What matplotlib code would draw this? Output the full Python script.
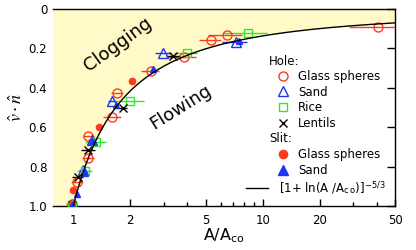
import numpy as np
import matplotlib
matplotlib.use('Agg')
import matplotlib.pyplot as plt
from matplotlib.lines import Line2D
from matplotlib.ticker import FixedLocator, NullFormatter

plt.rcParams['font.family'] = 'DejaVu Sans'
plt.rcParams['mathtext.fontset'] = 'stix'

# hole, glass spheres (open circles)
hole_glass_x = [0.98, 1.05, 1.20, 1.20, 1.61, 1.71, 2.56, 3.82, 5.3, 6.45, 40.6]
hole_glass_v = [0.99, 0.88, 0.757, 0.645, 0.548, 0.427, 0.315, 0.243, 0.157, 0.132, 0.092]
hole_glass_err = [0.07, 0.08, 0.09, 0.08, 0.17, 0.12, 0.28, 0.65, 0.7, 1.3, 12.0]

# hole, sand (open triangles)
hole_sand_x = [0.97, 1.12, 1.25, 1.61, 2.99, 7.2]
hole_sand_v = [0.995, 0.815, 0.665, 0.467, 0.223, 0.168]
hole_sand_err = [0.04, 0.05, 0.06, 0.08, 0.28, 1.1]

# hole, rice (open squares)
hole_rice_x = [0.99, 1.15, 1.32, 2.0, 3.97, 8.36]
hole_rice_v = [0.995, 0.82, 0.675, 0.467, 0.223, 0.122]
hole_rice_err = [0.05, 0.1, 0.17, 0.35, 0.55, 2.2]

# hole, lentils (crosses)
hole_lent_x = [0.99, 1.06, 1.20, 1.82, 3.38]
hole_lent_v = [0.995, 0.853, 0.716, 0.50, 0.24]
hole_lent_err = [0.04, 0.07, 0.1, 0.1, 0.3]

# slit, glass spheres (filled circles)
slit_glass_x = [0.98, 1.0, 1.36, 2.05]
slit_glass_v = [0.99, 0.92, 0.60, 0.365]

# slit, sand (filled triangles)
slit_sand_x = [0.98, 1.04, 1.16, 1.26, 1.69, 2.62, 7.5]
slit_sand_v = [0.995, 0.94, 0.83, 0.67, 0.487, 0.305, 0.16]

red = '#ff3a1e'
blue = '#1f35f5'
green = '#2ee82e'

fig = plt.figure(figsize=(4.16, 2.5), dpi=100)
ax = fig.add_axes([0.127, 0.176, 0.823, 0.788])

xmin, xmax = 0.78, 50
A = np.logspace(np.log10(1.0), np.log10(xmax), 300)
curve = (1 + np.log(A)) ** (-5 / 3)

# clogging region
ax.fill_between(np.r_[xmin, A], 0, np.r_[1.0, curve], color='#fffac8', lw=0, zorder=0)

ax.errorbar(hole_glass_x, hole_glass_v, xerr=hole_glass_err, fmt='o', mfc='none',
            mec=red, ecolor=red, ms=6.5, mew=1.0, elinewidth=1.0, capsize=0, zorder=3)
ax.errorbar(hole_sand_x, hole_sand_v, xerr=hole_sand_err, fmt='^', mfc='none',
            mec=blue, ecolor=blue, ms=6.5, mew=1.0, elinewidth=1.0, capsize=0, zorder=3)
ax.errorbar(hole_rice_x, hole_rice_v, xerr=hole_rice_err, fmt='s', mfc='none',
            mec=green, ecolor=green, ms=6, mew=1.0, elinewidth=1.0, capsize=0, zorder=3)
ax.errorbar(hole_lent_x, hole_lent_v, xerr=hole_lent_err, fmt='x', mec='black',
            ecolor='black', ms=6, mew=1.0, elinewidth=1.0, capsize=0, zorder=3)
ax.plot(slit_glass_x, slit_glass_v, 'o', color=red, ms=4.5, zorder=4)
ax.plot(slit_sand_x, slit_sand_v, '^', color=blue, ms=5, zorder=4)

ax.plot(A, curve, color='black', lw=1.0, zorder=5)

ax.set_xscale('log')
ax.set_xlim(xmin, xmax)
ax.set_ylim(1.0, 0.0)
ax.xaxis.set_major_locator(FixedLocator([1, 2, 5, 10, 20, 50]))
ax.xaxis.set_minor_locator(FixedLocator([3, 4, 6, 7, 8, 9, 30, 40]))
ax.xaxis.set_minor_formatter(NullFormatter())
ax.set_xticklabels(['1', '2', '5', '10', '20', '50'])
ax.set_yticks([0, 0.2, 0.4, 0.6, 0.8, 1.0])
ax.set_yticklabels(['0', '0.2', '0.4', '0.6', '0.8', '1.0'])
ax.tick_params(axis='x', which='major', direction='in', length=5, width=1, labelsize=8.5, pad=6)
ax.tick_params(axis='x', which='minor', direction='in', length=3, width=1)
ax.tick_params(axis='y', direction='in', length=6, width=1, labelsize=8.5,
               left=False, right=True, pad=4)
ax.spines['left'].set_visible(False)
for s in ['top', 'right', 'bottom']:
    ax.spines[s].set_linewidth(1.0)

ax.set_xlabel(r'A/A$_\mathregular{co}$', fontsize=11.5, labelpad=0)
ax.set_ylabel(r'$\hat{v}\cdot\hat{n}$', fontsize=13, labelpad=2)

ax.text(0.19, 0.82, 'Clogging', transform=ax.transAxes, rotation=36,
        fontsize=13, ha='center', va='center')
ax.text(0.375, 0.5, 'Flowing', transform=ax.transAxes, rotation=32,
        fontsize=13, ha='center', va='center')

# legend
blank = Line2D([], [], ls='none')
handles = [
    blank,
    Line2D([], [], ls='none', marker='o', mfc='none', mec=red, ms=6.5),
    Line2D([], [], ls='none', marker='^', mfc='none', mec=blue, ms=6.5),
    Line2D([], [], ls='none', marker='s', mfc='none', mec=green, ms=6),
    Line2D([], [], ls='none', marker='x', mec='black', ms=6),
    blank,
    Line2D([], [], ls='none', marker='o', color=red, ms=6),
    Line2D([], [], ls='none', marker='^', color=blue, ms=6.5),
]
labels = ['', 'Glass spheres', 'Sand', 'Rice', 'Lentils', '', 'Glass spheres', 'Sand']
leg = ax.legend(handles, labels, loc='upper left', bbox_to_anchor=(0.655, 0.771),
                frameon=False, fontsize=8.5, handlelength=1.0, handletextpad=0.8,
                labelspacing=0.23, borderpad=0, borderaxespad=0)
ax.add_artist(leg)
ax.text(0.632, 0.731, 'Hole:', transform=ax.transAxes, fontsize=8.5, va='center')
ax.text(0.632, 0.345, 'Slit:', transform=ax.transAxes, fontsize=8.5, va='center')

ax.legend([Line2D([], [], color='black', lw=1.0)],
          [r'[1+ ln(A /A$_\mathregular{c\,o}$)]$^\mathregular{-5/3}$'],
          loc='center left', bbox_to_anchor=(0.564, 0.091), frameon=False,
          fontsize=8.5, handlelength=1.9, handletextpad=0.9, borderpad=0, borderaxespad=0)

fig.savefig('out.png', dpi=100)
